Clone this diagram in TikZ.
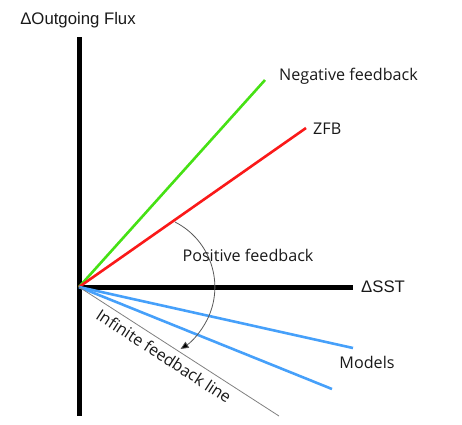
\documentclass[tikz,border=0pt]{standalone}
\usepackage{fontspec}
\setmainfont{Open Sans}
\newfontfamily\arialfont{Liberation Sans}
\usetikzlibrary{arrows.meta}
\definecolor{negc}{RGB}{70,225,20}
\definecolor{zfbc}{RGB}{250,25,25}
\definecolor{modc}{RGB}{70,160,250}
\definecolor{txtc}{RGB}{25,25,25}
\tikzset{
  axis/.style={line width=5bp, black},
  feed/.style={line width=2.6bp},
  lbl/.style={font=\fontsize{16.2}{19}\selectfont, text=txtc, inner sep=0pt},
  albl/.style={font=\arialfont\fontsize{16.8}{19}\selectfont, text=txtc, inner sep=0pt},
}
\begin{document}
\begin{tikzpicture}[x=1bp, y=-1bp]
\useasboundingbox (0,0) rectangle (462,424);
\coordinate (O) at (79,287);
\coordinate (ytop) at (79,37);
\coordinate (ybot) at (79,416);
\coordinate (xend) at (353,287);
\coordinate (negend) at (265,80);
\coordinate (zfbend) at (306,128);
\coordinate (m1end) at (353,348);
\coordinate (m2end) at (332,389);
\coordinate (infend) at (279,416);
\coordinate (arcstart) at (175,222);
% axes
\draw[axis] (ytop) -- (ybot);
\draw[axis] (O) -- (xend);
% lines
\draw[feed, negc] (O) -- (negend);
\draw[feed, zfbc] (O) -- (zfbend);
\draw[feed, modc] (O) -- (m1end);
\draw[feed, modc] (O) -- (m2end);
\draw[line width=0.8bp, gray] (O) -- (infend);
% arc
\draw[line width=0.8bp, black!65, -{Triangle[length=8bp,width=7bp,fill=black]}] (arcstart) arc[start angle=-63, end angle=58, radius=73];
% labels
\node[albl] (ylab) at (78,20) {ΔOutgoing Flux};
\node[lbl, anchor=west] (neglab) at (279,76) {Negative feedback};
\node[lbl, anchor=west] (zfblab) at (313,129) {ZFB};
\node[albl, anchor=west] (xlab) at (361,287) {ΔSST};
\node[lbl] (poslab) at (248,255) {Positive feedback};
\node[lbl] (modlab) at (367,362) {Models};
\node[lbl, rotate=-33] (inflab) at (164,356) {Infinite feedback line};
\end{tikzpicture}
\end{document}
